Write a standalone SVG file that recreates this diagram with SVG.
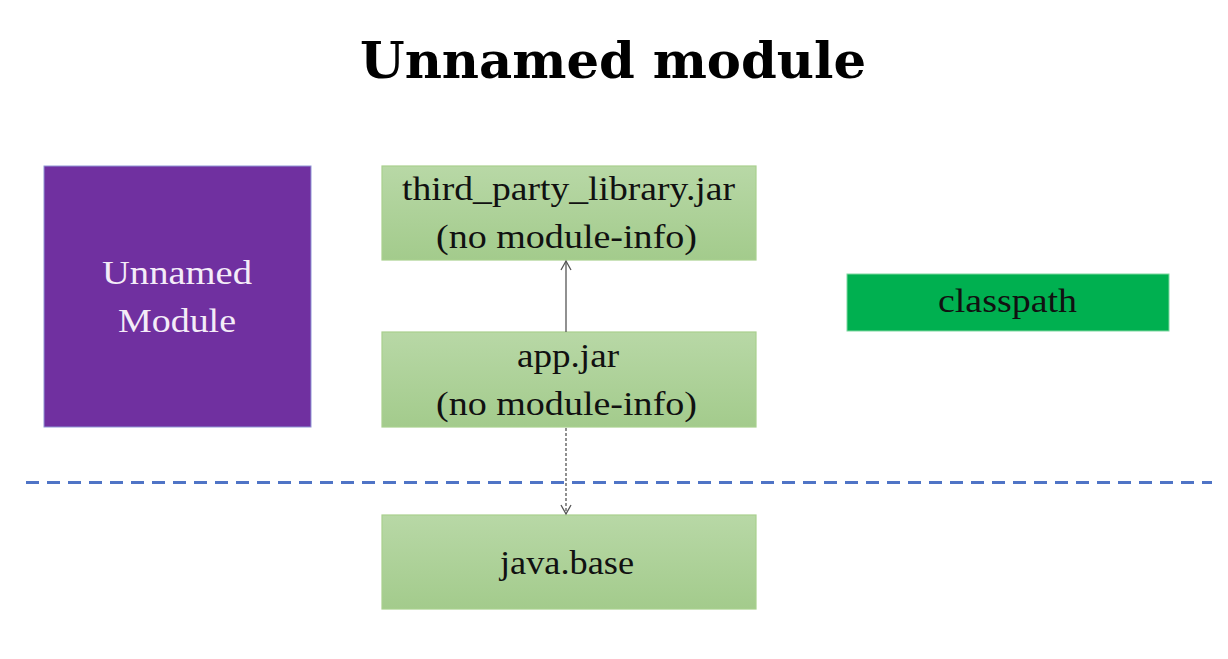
<svg xmlns="http://www.w3.org/2000/svg" width="1228" height="659" viewBox="0 0 1228 659">
<defs>
<linearGradient id="g" x1="0" y1="0" x2="0" y2="1">
<stop offset="0" stop-color="#b8d8a6"/>
<stop offset="1" stop-color="#a3cb8c"/>
</linearGradient>
<marker id="open" viewBox="0 0 12 12" refX="10" refY="6" markerWidth="12" markerHeight="12" markerUnits="userSpaceOnUse" orient="auto">
<path d="M1,1 L10,6 L1,11" fill="none" stroke="#555" stroke-width="1.3"/>
</marker>
</defs>
<style>
.box{fill:url(#g);stroke:#a9d08e;stroke-width:1.2}
.t{font-family:"Liberation Serif","DejaVu Serif",serif;font-size:34px;fill:#111;text-anchor:middle}
.w{fill:#f4ecf8}
.title{font-family:"DejaVu Serif","Liberation Serif",serif;font-weight:bold;font-size:50px;fill:#000;text-anchor:middle}
</style>
<rect width="1228" height="659" fill="#fff"/>
<text class="title" x="613" y="78" textLength="506" lengthAdjust="spacingAndGlyphs">Unnamed module</text>
<line x1="26" y1="482.5" x2="1212" y2="482.5" stroke="#4f74c6" stroke-width="3" stroke-dasharray="13 8"/>
<g id="unnamed-module">
<rect x="44" y="166" width="267" height="261" fill="#7030a0" stroke="#8f96d6" stroke-width="1"/>
<text class="t w" x="177" y="284" textLength="150" lengthAdjust="spacingAndGlyphs">Unnamed</text>
<text class="t w" x="177" y="332" textLength="118" lengthAdjust="spacingAndGlyphs">Module</text>
</g>
<g id="third-party">
<rect class="box" x="382" y="166" width="374" height="94"/>
<text class="t" x="568.5" y="200" textLength="333" lengthAdjust="spacingAndGlyphs">third_party_library.jar</text>
<text class="t" x="566.5" y="248" textLength="261" lengthAdjust="spacingAndGlyphs">(no module-info)</text>
</g>
<g id="app">
<rect class="box" x="382" y="332" width="374" height="95"/>
<text class="t" x="568" y="367" textLength="102" lengthAdjust="spacingAndGlyphs">app.jar</text>
<text class="t" x="566.5" y="415" textLength="261" lengthAdjust="spacingAndGlyphs">(no module-info)</text>
</g>
<g id="java-base">
<rect class="box" x="382" y="515" width="374" height="94"/>
<text class="t" x="567" y="574" textLength="134" lengthAdjust="spacingAndGlyphs">java.base</text>
</g>
<g id="classpath">
<rect x="847" y="274" width="322" height="57" fill="#00b050" stroke="#7fd7a0" stroke-width="1"/>
<text class="t" x="1007.5" y="312" textLength="139" lengthAdjust="spacingAndGlyphs">classpath</text>
</g>
<g id="connectors">
<line x1="566" y1="332" x2="566" y2="261" stroke="#555" stroke-width="1.3" marker-end="url(#open)"/>
<line x1="566" y1="428" x2="566" y2="514" stroke="#555" stroke-width="1.3" stroke-dasharray="3 2" marker-end="url(#open)"/>
</g>
</svg>
